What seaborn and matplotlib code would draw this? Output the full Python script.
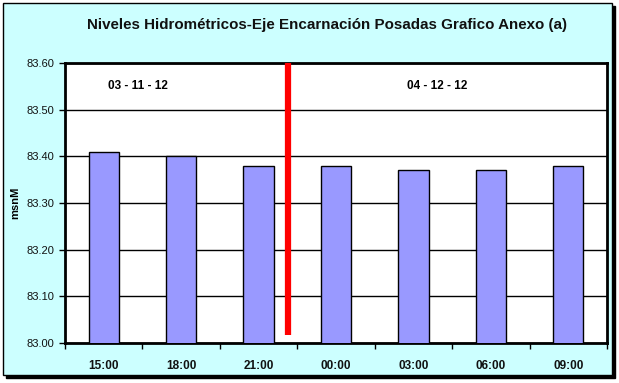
import numpy as np
import pandas as pd
import seaborn as sns
import matplotlib.pyplot as plt
from matplotlib.patches import Rectangle

# Niveles
horas = ["15:00", "18:00", "21:00", "00:00", "03:00", "06:00", "09:00"]
niveles = [83.41, 83.40, 83.38, 83.38, 83.37, 83.37, 83.38]
fechas = ["03 - 11 - 12", "04 - 12 - 12"]
fecha_x = [0.44, 4.31]
corte_x = 2.38
y_ticks = [83.00, 83.10, 83.20, 83.30, 83.40, 83.50, 83.60]

df = pd.DataFrame({"hora": horas, "nivel": niveles})

sns.set_theme(style="white")
plt.rcParams['font.family'] = ['Liberation Sans', 'DejaVu Sans']

W, H = 619, 383
fig = plt.figure(figsize=(W / 100, H / 100), dpi=100)
fig.patch.set_facecolor("white")

# marco exterior con sombra
x0, y0, x1, y1 = 3, 3, 612, 375
fig.patches.append(Rectangle(((x0 + 3) / W, 1 - (y1 + 3) / H), (x1 - x0) / W, (y1 - y0) / H,
                             transform=fig.transFigure, facecolor="black", edgecolor="black", zorder=0))
fig.patches.append(Rectangle((x0 / W, 1 - y1 / H), (x1 - x0) / W, (y1 - y0) / H,
                             transform=fig.transFigure, facecolor="#CCFFFF", edgecolor="black",
                             linewidth=1, zorder=1))

ax = fig.add_axes([65 / W, 1 - 343 / H, 542 / W, 280 / H])
ax.set_facecolor("white")
ax.set_zorder(2)

sns.barplot(data=df, x="hora", y="nivel", color="#9999FF", edgecolor="black",
            linewidth=1, width=0.39, saturation=1, ax=ax, zorder=3)

ax.set_ylim(83.0, 83.6)
ax.set_xlim(-0.5, len(horas) - 0.5)
ax.set_yticks(y_ticks)
ax.set_yticklabels([f"{v:.2f}" for v in y_ticks])
ax.yaxis.grid(True, color="black", linewidth=1)
ax.set_axisbelow(True)

for s in ax.spines.values():
    s.set_color("black")
    s.set_linewidth(2)

ax.tick_params(axis="y", which="major", left=True, length=4, width=1, color="black",
               labelsize=8, pad=4, labelcolor="#111111")
ax.tick_params(axis="x", which="major", bottom=False, labelsize=8.5, pad=6, labelcolor="#111111")
ax.set_xticks(np.arange(-0.5, len(horas) + 0.5, 1), minor=True)
ax.tick_params(axis="x", which="minor", bottom=True, length=4, width=1, color="black")
for lab in ax.get_xticklabels():
    lab.set_fontweight("bold")

# linea roja que separa los dias
ax.plot([corte_x, corte_x], [83.017, 83.6], color="#FF0000", linewidth=4.5,
        solid_capstyle="butt", zorder=5, clip_on=False)

for fx, ft in zip(fecha_x, fechas):
    ax.text(fx, 83.551, ft, ha="center", va="center", fontsize=8.5, fontweight="bold",
            color="black", zorder=6)

ax.set_xlabel("")
ax.set_ylabel("msnM", fontsize=8, fontweight="bold", color="black", labelpad=4)

fig.text(0.5275, 1 - 25 / H, "Niveles Hidrométricos-Eje Encarnación Posadas Grafico Anexo (a)",
         ha="center", va="center", fontsize=10.9, fontweight="bold", color="#111111", zorder=3)

fig.savefig("out.png", dpi=100)
